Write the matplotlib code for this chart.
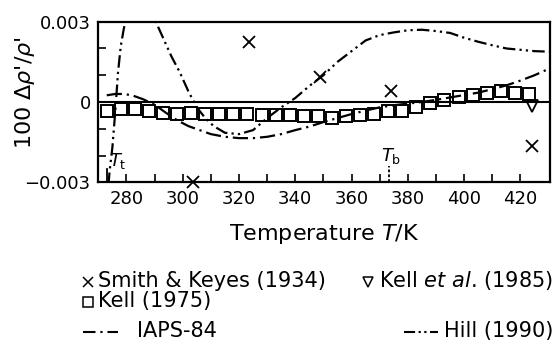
import matplotlib
matplotlib.use('Agg')
import matplotlib.pyplot as plt
from matplotlib.lines import Line2D

plt.rcParams['font.family'] = ['DejaVu Sans']
plt.rcParams['mathtext.fontset'] = 'dejavusans'
plt.rcParams['lines.scale_dashes'] = False

# ---- data ----
kell75_T = [273, 278, 283, 288, 293, 298, 303, 308, 313, 318, 323, 328, 333, 338, 343, 348,
            353, 358, 363, 368, 373, 378, 383, 388, 393, 398, 403, 408, 413, 418, 423]
kell75_y = [-0.00032, -0.00028, -0.00028, -0.00032, -0.00040, -0.00043, -0.00042, -0.00045,
            -0.00045, -0.00046, -0.00046, -0.00047, -0.00048, -0.00050, -0.00054, -0.00054,
            -0.00058, -0.00053, -0.00049, -0.00045, -0.00035, -0.00033, -0.00020, -0.00004,
            0.00007, 0.00020, 0.00028, 0.00034, 0.00042, 0.00034, 0.00030]

smith_T = [303.6, 323.4, 348.9, 374.0, 424.2]
smith_y = [-0.003, 0.00225, 0.00092, 0.00041, -0.00166]

kell85_T = [424.0]
kell85_y = [-0.00016]

iaps_T = [273, 276, 279, 282, 286, 290, 294, 298, 302, 306, 310, 315, 320, 325, 330, 335,
          340, 345, 350, 355, 360, 365, 370, 375, 380, 385, 390, 395, 400, 405, 410, 415,
          420, 425, 430.5]
iaps_y = [0.00025, 0.00030, 0.00030, 0.00025, 0.00010, -0.00010, -0.00040, -0.00068,
          -0.00090, -0.00105, -0.00120, -0.00130, -0.00135, -0.00135, -0.00130, -0.00120,
          -0.00105, -0.00092, -0.00075, -0.00060, -0.00045, -0.00032, -0.00020, -0.00012,
          -0.00006, 0.00000, 0.00008, 0.00017, 0.00026, 0.00035, 0.00048, 0.00062,
          0.00080, 0.00100, 0.00126]

hill_T = [273.6, 274.0, 275.0, 276.0, 277.0, 278.0, 279.0, 280.0, 282.0, 284.0, 286.0,
          288.0, 290.0, 293.0, 296.0, 299.0, 302.0, 305.0, 308.0, 311.0, 315.0, 320.0,
          325.0, 330.0, 335.0, 340.0, 345.0, 350.0, 355.0, 360.0, 365.0, 370.0, 375.0,
          380.0, 385.0, 390.0, 395.0, 400.0, 405.0, 410.0, 415.0, 420.0, 425.0, 430.5]
hill_y = [-0.0031, -0.0026, -0.0017, -0.0004, 0.0011, 0.0021, 0.0027, 0.0032, 0.0040,
          0.0044, 0.0043, 0.0038, 0.0031, 0.0024, 0.0017, 0.0011, 0.0004, -0.0002, -0.0006,
          -0.0009, -0.00115, -0.0012, -0.00105, -0.0006, -0.0002, 0.00015, 0.0006, 0.0010,
          0.0015, 0.0019, 0.0023, 0.0025, 0.0026, 0.00268, 0.0027, 0.00265, 0.00258, 0.0024,
          0.00225, 0.00212, 0.0020, 0.00195, 0.0019, 0.00188]

T_t = 273.16
T_b = 373.12

x_major = [280, 300, 320, 340, 360, 380, 400, 420]
x_minor = [290, 310, 330, 350, 370, 390, 410]
y_major = [-0.003, 0.0, 0.003]
y_major_labels = ['\u22120.003', '0', '0.003']
y_minor = [-0.002, -0.001, 0.001, 0.002]

W, H = 557, 356
fig = plt.figure(figsize=(W / 100, H / 100), dpi=100)
ax = fig.add_axes([98.3 / W, 1 - 182.3 / H, (550 - 98.3) / W, (182.3 - 21.7) / H])

iaps_style = (0, (11, 3.5, 1.6, 3.5))
hill_style = (0, (9, 3, 1.6, 3, 1.6, 3))

ax.axhline(0, color='black', lw=1.5, zorder=2)
ax.plot(iaps_T, iaps_y, color='black', lw=1.6, linestyle=iaps_style, zorder=3)
ax.plot(hill_T, hill_y, color='black', lw=1.6, linestyle=hill_style, zorder=3)
ax.plot(kell75_T, kell75_y, linestyle='none', marker='s', markersize=8.5,
        markerfacecolor='none', markeredgecolor='black', markeredgewidth=1.4, zorder=4)
ax.plot(smith_T, smith_y, linestyle='none', marker='x', markersize=8.5,
        color='black', markeredgewidth=1.3, clip_on=False, zorder=5)
ax.plot(kell85_T, kell85_y, linestyle='none', marker='v', markersize=8,
        markerfacecolor='none', markeredgecolor='black', markeredgewidth=1.3, zorder=5)

# triple point / boiling point markers
ax.plot([T_t, T_t], [-0.003, -0.0025], color='black', lw=1.3)
ax.plot([T_b, T_b], [-0.003, -0.0024], color='black', lw=1.3, linestyle=(0, (2, 1.5)))
ax.text(T_t + 0.5, -0.0022, r'$\mathit{T}_{\mathrm{t}}$', fontsize=13, ha='left', va='center')
ax.text(T_b + 0.8, -0.0020, r'$\mathit{T}_{\mathrm{b}}$', fontsize=13, ha='center', va='center')

ax.set_xlim(270, 430.5)
ax.set_ylim(-0.003, 0.003)
ax.set_xticks(x_major)
ax.set_xticks(x_minor, minor=True)
ax.set_yticks(y_major)
ax.set_yticklabels(y_major_labels)
ax.set_yticks(y_minor, minor=True)
ax.tick_params(which='both', direction='in', length=6, width=1.2, top=False, right=False)
ax.tick_params(which='major', labelsize=13, pad=5.5)
for s in ax.spines.values():
    s.set_linewidth(1.6)

ax.set_xlabel(r'Temperature $\mathit{T}$/K', fontsize=16, labelpad=10)
ax.set_ylabel(r"100 $\Delta\mathit{\rho}$'/$\mathit{\rho}$'", fontsize=16)
ax.yaxis.set_label_coords(-0.136, 0.56)

# ---- legend (manual, below the plot) ----
def fx(px):
    return px / W

def fy(py):
    return 1 - py / H

leg_fs = 15
r1, r2, r3 = 281, 301, 331
fig.add_artist(Line2D([fx(88)], [fy(r1 + 1)], marker='x', markersize=7, color='black',
                      markeredgewidth=1.1, linestyle='none', transform=fig.transFigure))
fig.text(fx(98), fy(r1), 'Smith & Keyes (1934)', fontsize=leg_fs, va='center', ha='left')
t_k85 = fig.text(fx(553), fy(r1), r'Kell $\mathit{et\ al}$. (1985)', fontsize=leg_fs,
                 va='center', ha='right')
fig.add_artist(Line2D([fx(88)], [fy(r2 + 1)], marker='s', markersize=6.5, markerfacecolor='none',
                      markeredgecolor='black', markeredgewidth=1.1, linestyle='none',
                      transform=fig.transFigure))
fig.text(fx(98), fy(r2), 'Kell (1975)', fontsize=leg_fs, va='center', ha='left')
fig.add_artist(Line2D([fx(83), fx(118)], [fy(r3 + 1), fy(r3 + 1)], color='black', lw=1.5,
                      linestyle=(0, (9, 3.5, 1.6, 3.5)), transform=fig.transFigure))
fig.text(fx(137), fy(r3), 'IAPS-84', fontsize=leg_fs, va='center', ha='left')
t_hill = fig.text(fx(553), fy(r3), 'Hill (1990)', fontsize=leg_fs, va='center', ha='right')

fig.canvas.draw()
rend = fig.canvas.get_renderer()
k85_left = t_k85.get_window_extent(rend).x0
hill_left = t_hill.get_window_extent(rend).x0
fig.add_artist(Line2D([(k85_left - 11) / W], [fy(r1 + 1)], marker='v', markersize=7,
                      markerfacecolor='none', markeredgecolor='black', markeredgewidth=1.1,
                      linestyle='none', transform=fig.transFigure))
fig.add_artist(Line2D([(hill_left - 40) / W, (hill_left - 6) / W], [fy(r3 + 1), fy(r3 + 1)],
                      color='black', lw=1.5, linestyle=(0, (8, 2.5, 1.6, 2.5, 1.6, 2.5)),
                      transform=fig.transFigure))

fig.savefig('out.png', dpi=100)
